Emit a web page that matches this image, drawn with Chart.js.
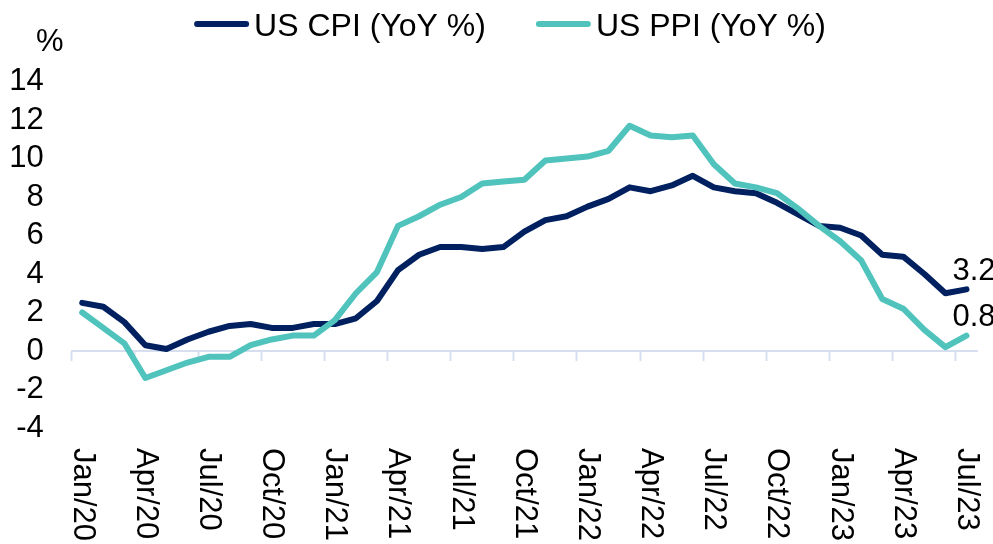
<!DOCTYPE html>
<html>
<head>
<meta charset="utf-8">
<script src="https://cdn.jsdelivr.net/npm/chart.js@4.4.0/dist/chart.umd.min.js"></script>
<style>
    html, body { margin: 0; padding: 0; background: #fff; }
    #wrap { width: 993px; height: 544px; position: relative; }
</style>
</head>
<body>
<div id="wrap"><canvas id="chart"></canvas></div>
<script>
let months = ['Jan/20', 'Feb/20', 'Mar/20', 'Apr/20', 'May/20', 'Jun/20', 'Jul/20', 'Aug/20', 'Sep/20', 'Oct/20', 'Nov/20', 'Dec/20',
    'Jan/21', 'Feb/21', 'Mar/21', 'Apr/21', 'May/21', 'Jun/21', 'Jul/21', 'Aug/21', 'Sep/21', 'Oct/21', 'Nov/21', 'Dec/21',
    'Jan/22', 'Feb/22', 'Mar/22', 'Apr/22', 'May/22', 'Jun/22', 'Jul/22', 'Aug/22', 'Sep/22', 'Oct/22', 'Nov/22', 'Dec/22',
    'Jan/23', 'Feb/23', 'Mar/23', 'Apr/23', 'May/23', 'Jun/23', 'Jul/23'];

let cpiValues = [2.5, 2.3, 1.5, 0.3, 0.1, 0.6, 1.0, 1.3, 1.4, 1.2, 1.2, 1.4,
    1.4, 1.7, 2.6, 4.2, 5.0, 5.4, 5.4, 5.3, 5.4, 6.2, 6.8, 7.0,
    7.5, 7.9, 8.5, 8.3, 8.6, 9.1, 8.5, 8.3, 8.2, 7.7, 7.1, 6.5,
    6.4, 6.0, 5.0, 4.9, 4.0, 3.0, 3.2];

let ppiValues = [2.0, 1.2, 0.4, -1.4, -1.0, -0.6, -0.3, -0.3, 0.3, 0.6, 0.8, 0.8,
    1.6, 3.0, 4.1, 6.5, 7.0, 7.6, 8.0, 8.7, 8.8, 8.9, 9.9, 10.0,
    10.1, 10.4, 11.7, 11.2, 11.1, 11.2, 9.7, 8.7, 8.5, 8.2, 7.4, 6.5,
    5.7, 4.7, 2.7, 2.2, 1.1, 0.2, 0.8];

let seriesNames = ['US CPI (YoY %)', 'US PPI (YoY %)'];
let seriesColors = ['#002060', '#4FC3BC'];
let yMin = -4, yMax = 14, yStep = 2;
let labelEvery = 3;

let fontFamily = '"Liberation Sans", Arial, sans-serif';
let fontSize = 31;
let legendFontSize = 32;
let axisColor = '#D6DEEF';

// legend, unit, rotated month labels and end values
let decorPlugin = {
    id: 'decor',
    afterDraw(chart) {
        let ctx = chart.ctx;
        let area = chart.chartArea;
        let xScale = chart.scales.x;
        let yScale = chart.scales.y;
        ctx.save();
        ctx.fillStyle = '#000';

        // legend
        ctx.font = legendFontSize + 'px ' + fontFamily;
        let lineLen = 55, lineGap = 5, itemGap = 50;
        let widths = seriesNames.map(n => ctx.measureText(n).width);
        let total = widths.reduce((a, w) => a + lineLen + lineGap + w, 0) + itemGap * (seriesNames.length - 1);
        let lx = 510 - total / 2;
        ctx.textBaseline = 'alphabetic';
        ctx.textAlign = 'left';
        for (let i = 0; i < seriesNames.length; i++) {
            ctx.strokeStyle = seriesColors[i];
            ctx.lineWidth = 6;
            ctx.lineCap = 'round';
            ctx.beginPath();
            ctx.moveTo(lx + 3, 24);
            ctx.lineTo(lx + lineLen - 3, 24);
            ctx.stroke();
            ctx.fillText(seriesNames[i], lx + lineLen + lineGap, 36);
            lx += lineLen + lineGap + widths[i] + itemGap;
        }

        ctx.font = fontSize + 'px ' + fontFamily;
        // unit
        ctx.textAlign = 'center';
        ctx.fillText('%', area.left - 22, 51);

        // month labels, read top to bottom
        ctx.textAlign = 'left';
        ctx.textBaseline = 'middle';
        for (let i = 0; i < months.length; i += labelEvery) {
            let x = xScale.getPixelForValue(i);
            ctx.save();
            ctx.translate(x, area.bottom + 20);
            ctx.rotate(Math.PI / 2);
            ctx.fillText(months[i], 0, 0);
            ctx.restore();
        }

        // last values
        ctx.textBaseline = 'alphabetic';
        let last = months.length - 1;
        let ends = [[cpiValues[last], 9], [ppiValues[last], 10]];
        ends.forEach(e => {
            let x = xScale.getPixelForValue(last);
            let y = yScale.getPixelForValue(e[0]);
            ctx.fillText(e[0].toFixed(1), x - 14, y - e[1]);
        });
        ctx.restore();
    }
};

new Chart(document.getElementById('chart'), {
    type: 'line',
    data: {
        labels: months,
        datasets: [{
            label: seriesNames[0],
            data: cpiValues,
            borderColor: seriesColors[0],
            backgroundColor: seriesColors[0],
            borderWidth: 6,
            borderCapStyle: 'round',
            borderJoinStyle: 'round',
            pointRadius: 0,
            tension: 0,
            fill: false,
            order: 1
        }, {
            label: seriesNames[1],
            data: ppiValues,
            borderColor: seriesColors[1],
            backgroundColor: seriesColors[1],
            borderWidth: 6,
            borderCapStyle: 'round',
            borderJoinStyle: 'round',
            pointRadius: 0,
            tension: 0,
            fill: false,
            order: 0
        }]
    },
    options: {
        responsive: true,
        maintainAspectRatio: false,
        animation: false,
        layout: {padding: {left: 0, right: 16, top: 81.5, bottom: 116}},
        plugins: {
            legend: {display: false},
            tooltip: {enabled: false}
        },
        scales: {
            x: {
                type: 'category',
                display: false,
                offset: true
            },
            x2: {
                type: 'category',
                labels: months,
                position: {y: 0},
                offset: true,
                grid: {
                    display: true,
                    offset: true,
                    drawOnChartArea: false,
                    drawTicks: true,
                    tickLength: 9,
                    tickWidth: 2,
                    tickColor: c => (c.index !== undefined && c.index % labelEvery === 0) ? axisColor : 'rgba(0,0,0,0)'
                },
                border: {display: true, color: axisColor, width: 2},
                ticks: {display: false}
            },
            y: {
                min: yMin,
                max: yMax,
                afterFit: s => { s.width = 71.7; },
                grid: {display: false, drawTicks: false},
                border: {display: false},
                ticks: {
                    stepSize: yStep,
                    autoSkip: false,
                    padding: 28,
                    color: '#000',
                    font: {family: fontFamily, size: fontSize}
                }
            }
        }
    },
    plugins: [decorPlugin]
});
</script>
</body>
</html>
